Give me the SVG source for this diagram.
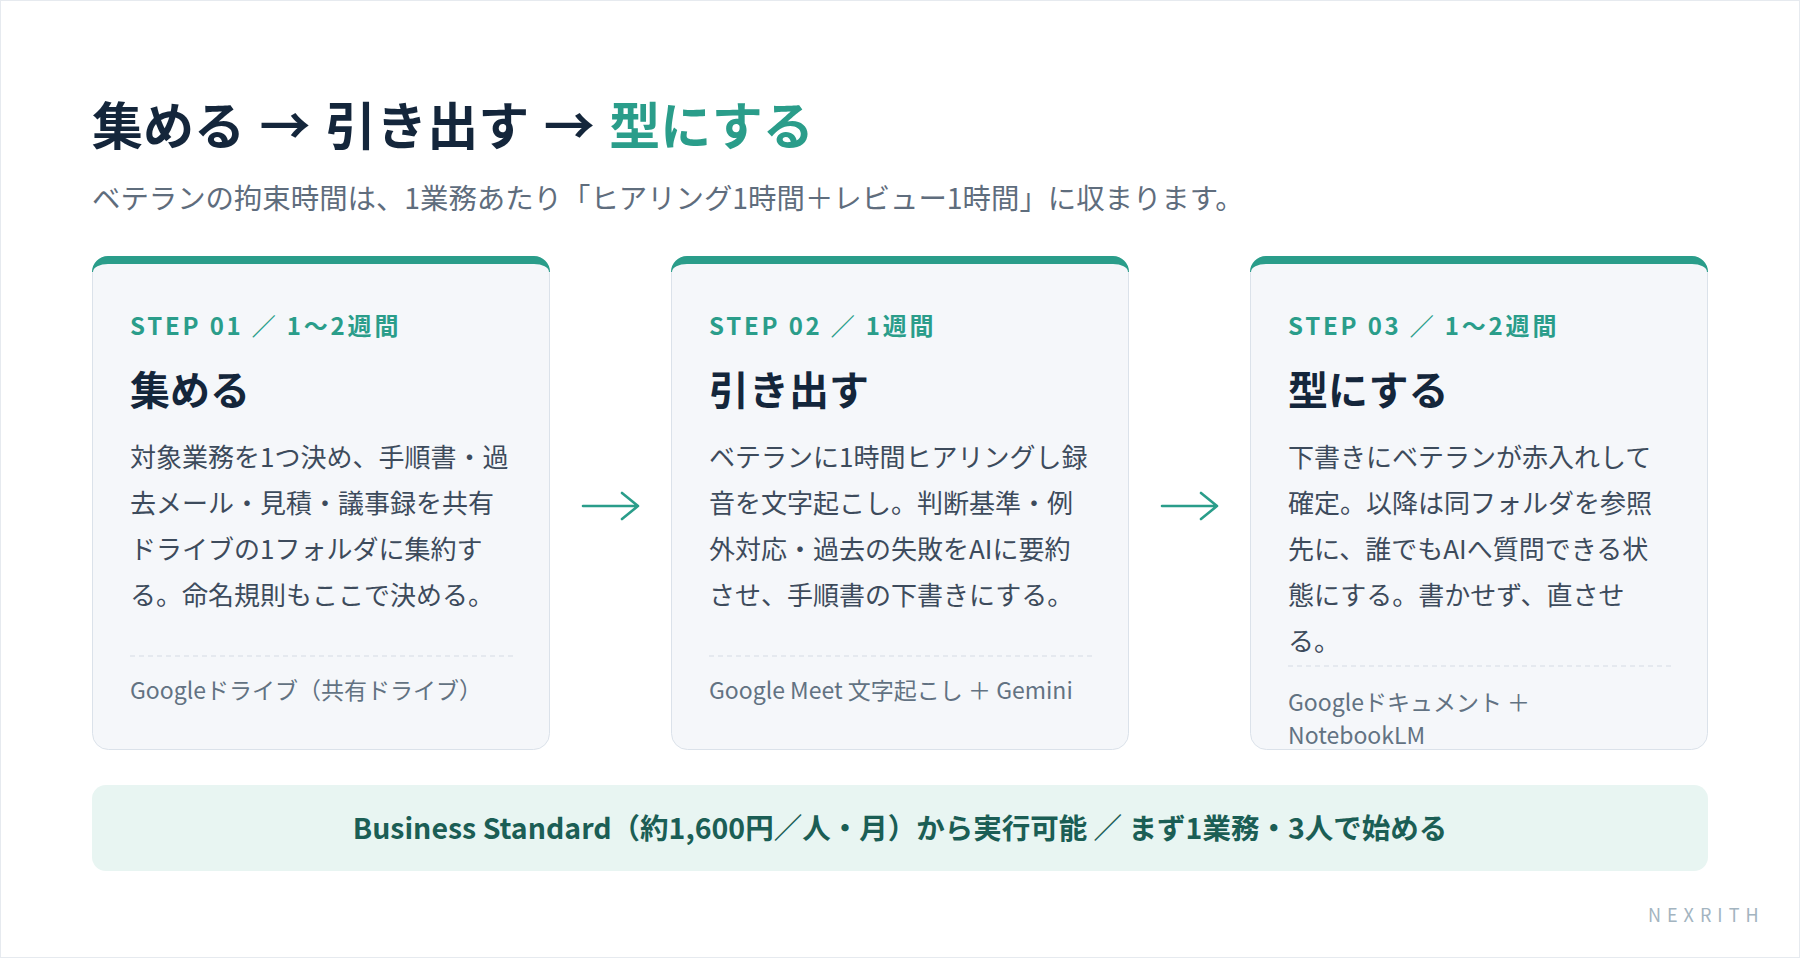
<svg xmlns="http://www.w3.org/2000/svg" xmlns:xlink="http://www.w3.org/1999/xlink" width="1800" height="958" viewBox="0 0 1800 958">
  <style>
    text { font-family: "Noto Sans CJK JP", "Noto Sans", sans-serif; }
    .title { font-size: 51px; font-weight: 700; fill: #14263b; word-spacing: 3px; }
    .accent { fill: #2a9d8a; }
    .sub { font-size: 28.4px; fill: #5f6d7d; }
    .step { font-size: 24px; font-weight: 700; fill: #2a9d8a; letter-spacing: 2.8px; }
    .head { font-size: 40px; font-weight: 700; fill: #14263b; }
    .body { font-size: 26px; fill: #3d4b5c; }
    .foot { font-size: 23px; fill: #627282; }
    .divider { stroke: #d5dce4; stroke-width: 1.2; stroke-dasharray: 5 4; }
    .arrow { fill: none; stroke: #2a9d8a; stroke-width: 2.6; stroke-linecap: round; stroke-linejoin: round; }
    .banner { font-size: 28.5px; font-weight: 700; fill: #1b5e55; }
    .brand { font-size: 18px; fill: #a3b4c0; letter-spacing: 6px; }
  </style>
  <defs>
    <g id="cardFrame">
      <rect x="0.5" y="0.5" width="457" height="493" rx="16" fill="#f5f7fa" stroke="#dbe2ea"/>
      <path d="M0,16 A16,16 0 0 1 16,0 H442 A16,16 0 0 1 458,16 L457,16 A15,8 0 0 0 442,8 H16 A15,8 0 0 0 1,16 Z" fill="#2a9d8a"/>
    </g>
  </defs>

  <rect x="0.5" y="0.5" width="1799" height="957" fill="#ffffff" stroke="#e6eaef"/>

  <g id="header">
    <text class="title" x="92" y="145">集める → 引き出す → <tspan class="accent">型にする</tspan></text>
    <text class="sub" x="92" y="209">ベテランの拘束時間は、1業務あたり「ヒアリング1時間＋レビュー1時間」に収まります。</text>
  </g>

  <g id="step1" transform="translate(92,256)">
    <use href="#cardFrame" xlink:href="#cardFrame"/>
    <text class="step" x="38" y="79">STEP 01 ／ 1〜2週間</text>
    <text class="head" x="38" y="149">集める</text>
    <text class="body" x="38" y="211">対象業務を1つ決め、手順書・過</text>
    <text class="body" x="38" y="257">去メール・見積・議事録を共有</text>
    <text class="body" x="38" y="303">ドライブの1フォルダに集約す</text>
    <text class="body" x="38" y="349">る。命名規則もここで決める。</text>
    <line class="divider" x1="38" y1="400" x2="421" y2="400"/>
    <text class="foot" x="38" y="443">Googleドライブ（共有ドライブ）</text>
  </g>

  <g id="step2" transform="translate(671,256)">
    <use href="#cardFrame" xlink:href="#cardFrame"/>
    <text class="step" x="38" y="79">STEP 02 ／ 1週間</text>
    <text class="head" x="38" y="149">引き出す</text>
    <text class="body" x="38" y="211">ベテランに1時間ヒアリングし録</text>
    <text class="body" x="38" y="257">音を文字起こし。判断基準・例</text>
    <text class="body" x="38" y="303">外対応・過去の失敗をAIに要約</text>
    <text class="body" x="38" y="349">させ、手順書の下書きにする。</text>
    <line class="divider" x1="38" y1="400" x2="421" y2="400"/>
    <text class="foot" x="38" y="443">Google Meet 文字起こし ＋ Gemini</text>
  </g>

  <g id="step3" transform="translate(1250,256)">
    <use href="#cardFrame" xlink:href="#cardFrame"/>
    <text class="step" x="38" y="79">STEP 03 ／ 1〜2週間</text>
    <text class="head" x="38" y="149">型にする</text>
    <text class="body" x="38" y="211">下書きにベテランが赤入れして</text>
    <text class="body" x="38" y="257">確定。以降は同フォルダを参照</text>
    <text class="body" x="38" y="303">先に、誰でもAIへ質問できる状</text>
    <text class="body" x="38" y="349">態にする。書かせず、直させ</text>
    <text class="body" x="38" y="395">る。</text>
    <line class="divider" x1="38" y1="410" x2="421" y2="410"/>
    <text class="foot" x="38" y="455">Googleドキュメント ＋</text>
    <text class="foot" x="38" y="488">NotebookLM</text>
  </g>

  <g id="connectors">
    <path class="arrow" d="M583,506 H638 M622,493 L638,506 L622,519"/>
    <path class="arrow" d="M1162,506 H1217 M1201,493 L1217,506 L1201,519"/>
  </g>

  <g id="banner">
    <rect x="92" y="785" width="1616" height="86" rx="14" fill="#e8f5f2"/>
    <text class="banner" x="900" y="839" text-anchor="middle">Business Standard（約1,600円／人・月）から実行可能 ／ まず1業務・3人で始める</text>
  </g>

  <g id="brand">
    <text class="brand" x="1648" y="922">NEXRITH</text>
  </g>
</svg>
